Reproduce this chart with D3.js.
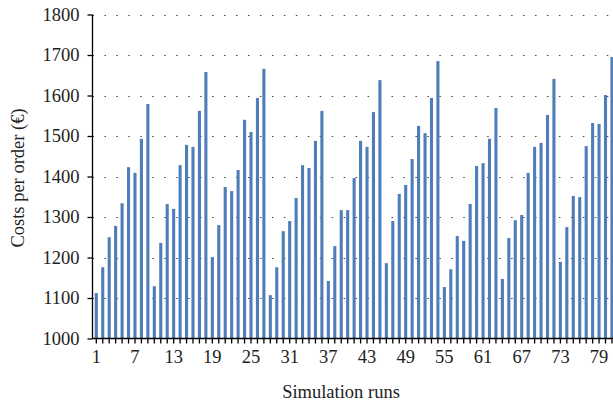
<!DOCTYPE html>
<html>
<head>
<meta charset="utf-8">
<script src="https://cdn.jsdelivr.net/npm/d3@7/dist/d3.min.js"></script>
<style>
  body { margin: 0; background: #fff; }
  svg { display: block; }
  text { font-family: 'Liberation Serif', 'DejaVu Serif', serif; fill: #222; }
</style>
</head>
<body>
<script>
  // 81 simulation runs (3^4 design), cost per order in euro
  var runs = d3.range(1, 82)
  var costs = [
    1112, 1176, 1250, 1278, 1334, 1423, 1409, 1493, 1579,
    1129, 1236, 1332, 1320, 1428, 1478, 1473, 1562, 1658,
    1201, 1280, 1374, 1364, 1416, 1540, 1510, 1594, 1666,
    1107, 1176, 1265, 1290, 1347, 1428, 1421, 1488, 1562,
    1142, 1228, 1317, 1317, 1396, 1488, 1473, 1559, 1638,
    1186, 1290, 1357, 1379, 1443, 1525, 1507, 1594, 1685,
    1127, 1171, 1253, 1241, 1332, 1426, 1433, 1493, 1569,
    1147, 1248, 1292, 1305, 1409, 1473, 1483, 1552, 1641,
    1189, 1275, 1352, 1349, 1475, 1532, 1530, 1601, 1695
  ]
  var yTicks = [1000, 1100, 1200, 1300, 1400, 1500, 1600, 1700, 1800]
  var xTickLabels = [1, 7, 13, 19, 25, 31, 37, 43, 49, 55, 61, 67, 73, 79]

  var width = 613
  var height = 406
  var plotLeft = 92.5
  var plotBottom = 338.5
  var plotTop = 14.5
  var fontSize = '18.5px'

  var svg = d3.select('body').append('svg')
    .attr('width', width)
    .attr('height', height)

  var x = d3.scaleBand()
    .domain(runs)
    .range([plotLeft, plotLeft + 81 * 6.46])
    .paddingInner(0.52)
    .paddingOuter(0.35)

  var y = d3.scaleLinear()
    .domain([1000, 1800])
    .range([plotBottom, plotTop])

  // dotted gridlines
  svg.append('g')
    .selectAll('line')
    .data(yTicks.slice(1))
    .enter().append('line')
    .attr('x1', plotLeft)
    .attr('x2', width)
    .attr('y1', function (d) { return Math.round(y(d)) + 0.5 })
    .attr('y2', function (d) { return Math.round(y(d)) + 0.5 })
    .style('stroke', '#444')
    .style('stroke-width', 1.2)
    .style('stroke-dasharray', '1.5 10.46')

  // bars
  svg.append('g')
    .selectAll('rect')
    .data(costs)
    .enter().append('rect')
    .attr('x', function (d, i) { return x(runs[i]) })
    .attr('width', x.bandwidth())
    .attr('y', function (d) { return y(d) })
    .attr('height', function (d) { return plotBottom - y(d) })
    .style('fill', '#4f7db9')

  // y axis
  var yAxis = svg.append('g')
    .attr('transform', 'translate(' + plotLeft + ',0)')
    .call(d3.axisLeft(y).tickValues(yTicks).tickSize(5).tickPadding(8).tickFormat(d3.format('d')))
  yAxis.select('.domain').attr('d', 'M0,' + plotTop + 'V' + plotBottom)
  yAxis.selectAll('text').style('font-size', fontSize)

  // x axis
  var xAxis = svg.append('g')
    .attr('transform', 'translate(0,' + plotBottom + ')')
    .call(d3.axisBottom(x).tickSize(5).tickPadding(6)
      .tickFormat(function (d) { return xTickLabels.indexOf(d) >= 0 ? d : '' }))
  xAxis.select('.domain').attr('d', 'M' + plotLeft + ',0H' + width)
  xAxis.selectAll('text').style('font-size', fontSize)
  svg.selectAll('.domain, .tick line').style('stroke', '#000').style('stroke-width', 1.3)

  svg.append('text')
    .attr('x', 341)
    .attr('y', 398)
    .attr('text-anchor', 'middle')
    .style('font-size', fontSize)
    .text('Simulation runs')

  svg.append('text')
    .attr('transform', 'translate(24,' + 178 + ') rotate(-90)')
    .attr('text-anchor', 'middle')
    .style('font-size', fontSize)
    .text('Costs per order (€)')
</script>
</body>
</html>
